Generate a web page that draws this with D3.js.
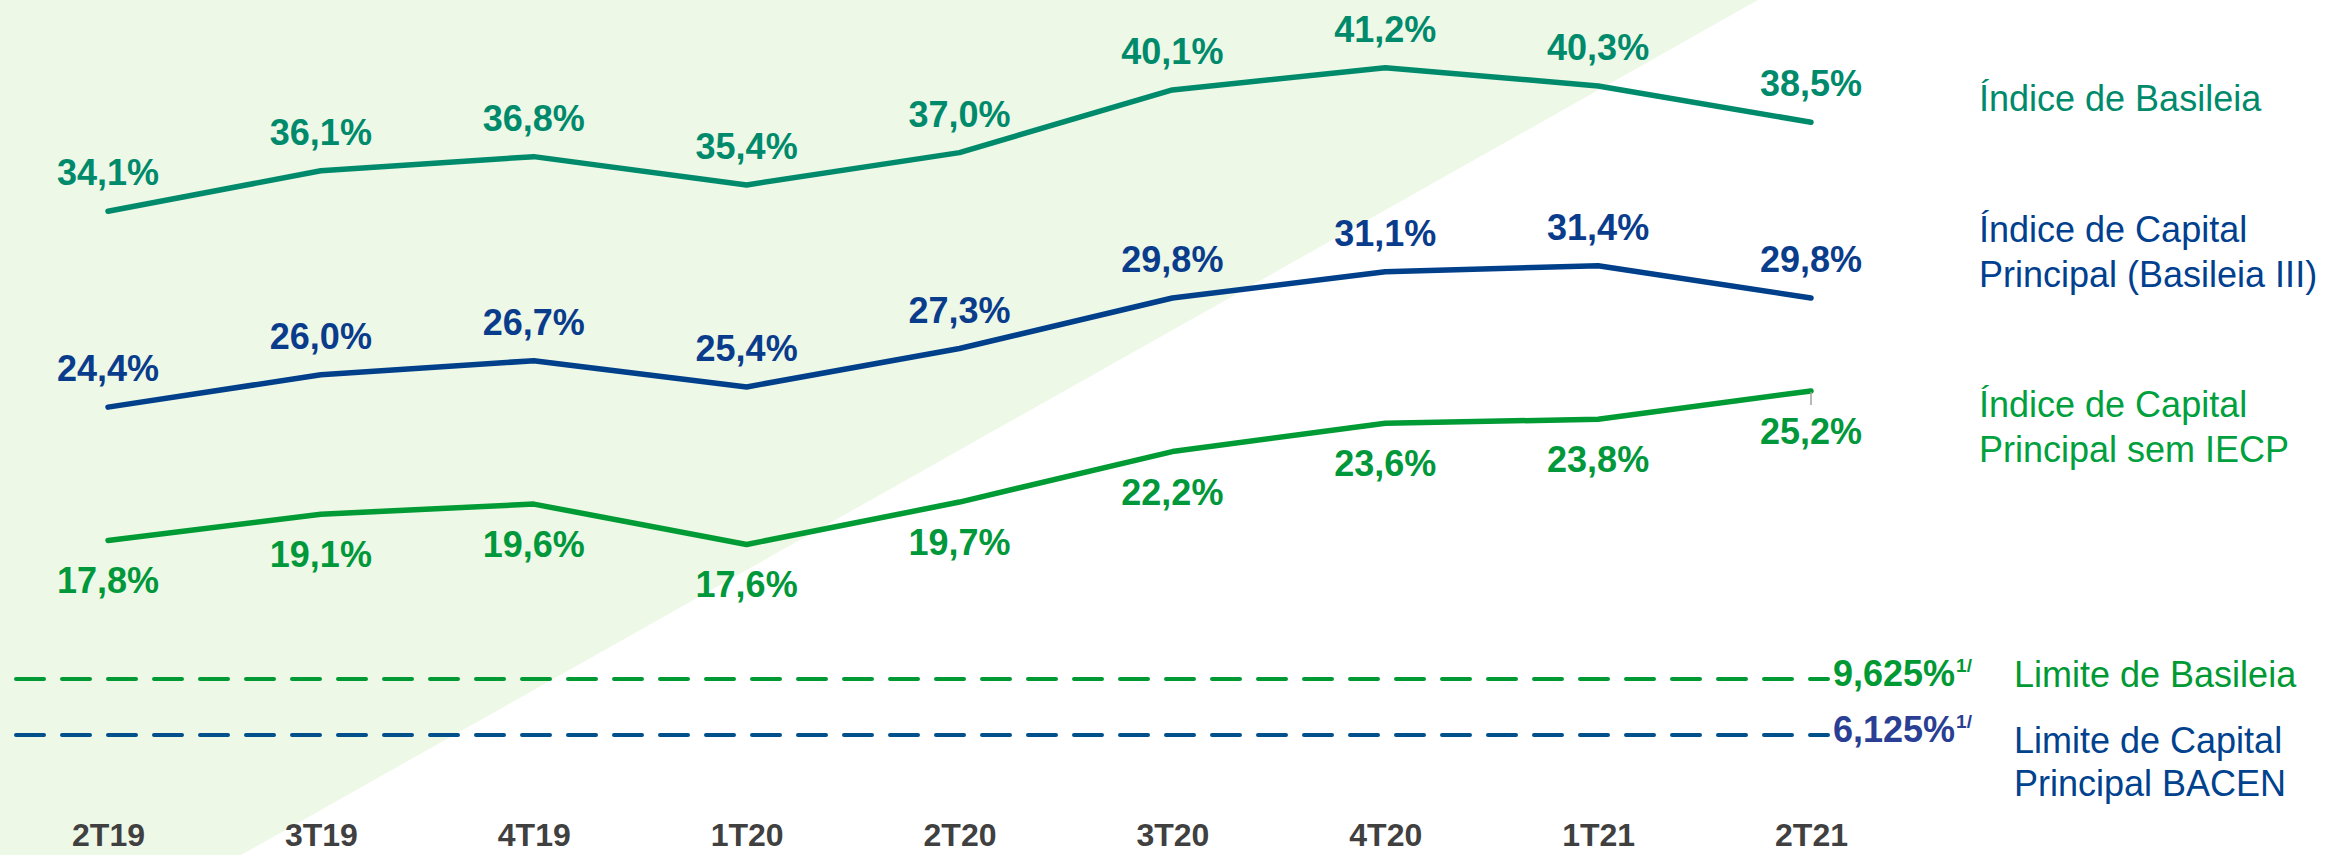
<!DOCTYPE html>
<html lang="pt">
<head>
<meta charset="utf-8">
<title>Índices de Basileia</title>
<script src="https://cdnjs.cloudflare.com/ajax/libs/d3/7.8.5/d3.min.js"></script>
<style>
  body { margin: 0; background: #fff; }
  svg text { font-family: "Liberation Sans", Arial, sans-serif; }
</style>
</head>
<body>
<script>
// quarters and values
var quarters = ["2T19", "3T19", "4T19", "1T20", "2T20", "3T20", "4T20", "1T21", "2T21"];
var basileia = [34.1, 36.1, 36.8, 35.4, 37.0, 40.1, 41.2, 40.3, 38.5];
var capitalPrincipal = [24.4, 26.0, 26.7, 25.4, 27.3, 29.8, 31.1, 31.4, 29.8];
var semIECP = [17.8, 19.1, 19.6, 17.6, 19.7, 22.2, 23.6, 23.8, 25.2];

var limitValues = [9.625, 6.125];
var limitNames = [["Limite de Basileia"], ["Limite de Capital", "Principal BACEN"]];
var seriesNames = [["Índice de Basileia"], ["Índice de Capital", "Principal (Basileia III)"], ["Índice de Capital", "Principal sem IECP"]];

var w = 2331, h = 855;

var svg = d3.select("body").append("svg")
  .attr("width", w)
  .attr("height", h);

// light green diagonal band in the background
svg.append("path")
  .attr("d", "M0,0 L1758,0 L241," + h + " L0," + h + " Z")
  .attr("fill", "#eef8e7");

var ptBR = d3.formatLocale({decimal: ",", thousands: ".", grouping: [3], currency: ["R$", ""]});
var fmt1 = ptBR.format(".1f");
var fmt3 = ptBR.format(".3f");

var x = d3.scalePoint().domain(quarters).range([108, 1811]);
var y = d3.scaleLinear().domain([0, 40]).range([900, 92]);
// limit lines are drawn on their own small scale (not to the main scale)
var yLimit = d3.scaleLinear().domain([6.125, 9.625]).range([735, 679]);

var series = [
  {values: basileia, line: "#008a6c", label: "#008a6c", legend: "#008a6c", below: false},
  {values: capitalPrincipal, line: "#003f8a", label: "#0a3c8c", legend: "#00408f", below: false},
  {values: semIECP, line: "#009b35", label: "#00983a", legend: "#00a03e", below: true}
];

var line = d3.line()
  .x(function(d, i) { return x(quarters[i]); })
  .y(function(d) { return y(d); });

series.forEach(function(s) {
  svg.append("path")
    .datum(s.values)
    .attr("d", line)
    .attr("fill", "none")
    .attr("stroke", s.line)
    .attr("stroke-width", 5.5)
    .attr("stroke-linecap", "round")
    .attr("stroke-linejoin", "round");

  svg.selectAll(null)
    .data(s.values)
    .enter()
    .append("text")
    .attr("x", function(d, i) { return x(quarters[i]); })
    .attr("y", function(d) { return s.below ? y(d) + 53 : y(d) - 26; })
    .attr("text-anchor", "middle")
    .style("font-size", "36px")
    .style("font-weight", "bold")
    .attr("fill", s.label)
    .text(function(d) { return fmt1(d) + "%"; });
});

// small grey leader at the end of the last line
var last = quarters.length - 1;
svg.append("line")
  .attr("x1", x(quarters[last])).attr("x2", x(quarters[last]))
  .attr("y1", y(semIECP[last]) + 1).attr("y2", y(semIECP[last]) + 14)
  .attr("stroke", "#a0a0a0")
  .attr("stroke-width", 1.5);

// series legend on the right
var legendBase = [111, 242, 417];
seriesNames.forEach(function(lines, k) {
  var t = svg.append("text")
    .attr("x", 1979)
    .attr("y", legendBase[k])
    .style("font-size", "36px")
    .attr("fill", series[k].legend);
  lines.forEach(function(l, j) {
    t.append("tspan").attr("x", 1979).attr("dy", j === 0 ? 0 : 45).text(l);
  });
});

// regulatory limits (dashed)
var limitColors = ["#009933", "#00508c"];
var limitTextColors = ["#009933", "#2a3f94"];
var limitLegendColors = ["#009933", "#00428d"];
var limitLegendBase = [687, 753];

limitValues.forEach(function(v, k) {
  svg.append("line")
    .attr("x1", 16).attr("x2", 1828)
    .attr("y1", yLimit(v)).attr("y2", yLimit(v))
    .attr("stroke", limitColors[k])
    .attr("stroke-width", 4)
    .attr("stroke-linecap", "round")
    .attr("stroke-dasharray", "28,18");

  var t = svg.append("text")
    .attr("x", 1833)
    .attr("y", yLimit(v) + 7)
    .style("font-size", "36px")
    .style("font-weight", "bold")
    .attr("fill", limitTextColors[k])
    .text(fmt3(v) + "%");
  t.append("tspan")
    .attr("dx", 1)
    .attr("dy", -14)
    .style("font-size", "19px")
    .text("1/");

  var lt = svg.append("text")
    .attr("x", 2014)
    .attr("y", limitLegendBase[k])
    .style("font-size", "36px")
    .attr("fill", limitLegendColors[k]);
  limitNames[k].forEach(function(l, j) {
    lt.append("tspan").attr("x", 2014).attr("dy", j === 0 ? 0 : 43).text(l);
  });
});

// x axis labels
var xAxis = d3.axisBottom(x).tickSize(0).tickPadding(0);
var gx = svg.append("g")
  .attr("transform", "translate(0,823)")
  .call(xAxis);
gx.select(".domain").remove();
gx.selectAll("text")
  .attr("fill", "#404040")
  .style("font-size", "32px")
  .style("font-weight", "bold")
  .style("font-family", "'Liberation Sans', Arial, sans-serif");
</script>
</body>
</html>
